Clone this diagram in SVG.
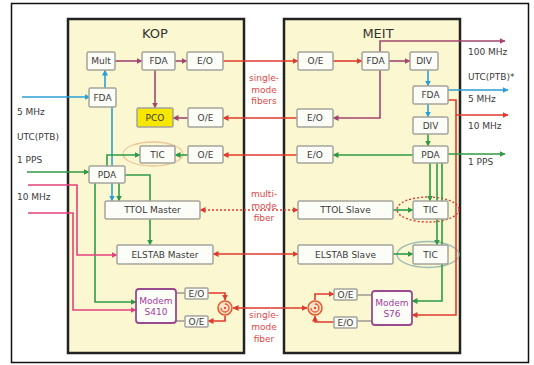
<svg xmlns="http://www.w3.org/2000/svg" width="534" height="365" viewBox="0 0 534 365">
<style>
text{font-family:"DejaVu Sans","Liberation Sans",sans-serif;font-size:9px;fill:#3a3a3a}
.c{text-anchor:middle}
.title{font-size:13px;fill:#333}
.fib{fill:#e04848}
.box{fill:#fdfdf8;stroke:#a4a49c;stroke-width:1.5}
.pco{fill:#f6e600;stroke:#a4a49c;stroke-width:1.5}
.modem{fill:#fdfdf8;stroke:#9a4a8e;stroke-width:1.8}
.mt{fill:#a03c9c}
.panel{fill:#fbf7d0;stroke:#222;stroke-width:2.5}
.ln{fill:none;stroke-width:1.6}
.red{stroke:#e03a2e}
.mau{stroke:#a3466e}
.blu{stroke:#2a9fd6}
.grn{stroke:#2f9a45}
.pnk{stroke:#e4417c}
.gry{stroke:#8a8a84;stroke-width:1.3}
.circ{fill:#fde3cc;stroke:#e8562a;stroke-width:1.5}
</style>
<defs>
<marker id="aR" viewBox="0 0 6 6" refX="5.5" refY="3" markerWidth="6" markerHeight="6" markerUnits="userSpaceOnUse" orient="auto-start-reverse"><path d="M0,0L6,3L0,6z" fill="#e03a2e"/></marker>
<marker id="aM" viewBox="0 0 6 6" refX="5.5" refY="3" markerWidth="6" markerHeight="6" markerUnits="userSpaceOnUse" orient="auto-start-reverse"><path d="M0,0L6,3L0,6z" fill="#a3466e"/></marker>
<marker id="aB" viewBox="0 0 6 6" refX="5.5" refY="3" markerWidth="6" markerHeight="6" markerUnits="userSpaceOnUse" orient="auto-start-reverse"><path d="M0,0L6,3L0,6z" fill="#2a9fd6"/></marker>
<marker id="aG" viewBox="0 0 6 6" refX="5.5" refY="3" markerWidth="6" markerHeight="6" markerUnits="userSpaceOnUse" orient="auto-start-reverse"><path d="M0,0L6,3L0,6z" fill="#2f9a45"/></marker>
<marker id="aP" viewBox="0 0 6 6" refX="5.5" refY="3" markerWidth="6" markerHeight="6" markerUnits="userSpaceOnUse" orient="auto-start-reverse"><path d="M0,0L6,3L0,6z" fill="#e4417c"/></marker>
</defs>
<rect x="0" y="0" width="534" height="365" fill="#fff"/>
<rect x="11.5" y="3.5" width="517" height="359" fill="none" stroke="#111" stroke-width="1.5"/>
<g id="panels">
<rect class="panel" x="68" y="19" width="176" height="334"/>
<rect class="panel" x="284" y="19" width="176" height="334"/>
<text class="c title" x="155" y="38">KOP</text>
<text class="c title" x="378" y="38">MEIT</text>
</g>
<g id="ellipses">
<ellipse cx="153" cy="154" rx="30" ry="12" fill="none" stroke="#ecc49c" stroke-width="1.3"/>
<ellipse cx="428" cy="209.5" rx="31" ry="12.5" fill="none" stroke="#e03030" stroke-width="1.3" stroke-dasharray="2 2"/>
<ellipse cx="428" cy="254.5" rx="31" ry="13" fill="none" stroke="#9cbcb4" stroke-width="1.3"/>
</g>
<g id="connectors">
<path class="ln mau" d="M115,61H142" marker-end="url(#aM)"/>
<path class="ln mau" d="M175,61H187" marker-end="url(#aM)"/>
<path class="ln mau" d="M155,70V108" marker-end="url(#aM)"/>
<path class="ln mau" d="M188,118H173" marker-end="url(#aM)"/>
<path class="ln mau" d="M389,61H410" marker-end="url(#aM)"/>
<path class="ln mau" d="M380,52V41H505" marker-end="url(#aM)"/>
<path class="ln mau" d="M380,70V118H333" marker-end="url(#aM)"/>
<path class="ln red" d="M223,61H298" marker-end="url(#aR)"/>
<path class="ln red" d="M333,61H362" marker-end="url(#aR)"/>
<path class="ln red" d="M297,118H223" marker-end="url(#aR)"/>
<path class="ln red" d="M297,155H223" marker-end="url(#aR)"/>
<path class="ln red" d="M200,210H298" stroke-dasharray="2 2" marker-start="url(#aR)" marker-end="url(#aR)"/>
<path class="ln red" d="M213,254H298" marker-start="url(#aR)" marker-end="url(#aR)"/>
<path class="ln red" d="M233,308H307" marker-start="url(#aR)" marker-end="url(#aR)"/>
<path class="ln red" d="M208,293H225V300" marker-end="url(#aR)"/>
<path class="ln red" d="M225,316V321H208" marker-end="url(#aR)"/>
<path class="ln red" d="M315,300V294H334" marker-end="url(#aR)"/>
<path class="ln red" d="M334,322H315V316" marker-end="url(#aR)"/>
<path class="ln red" d="M448,100H456V315H412" marker-end="url(#aR)"/>
<path class="ln red" d="M456,115H508" marker-end="url(#aR)"/>
<path class="ln blu" d="M22,97H90" marker-end="url(#aB)"/>
<path class="ln blu" d="M105,88V70" marker-end="url(#aB)"/>
<path class="ln blu" d="M112,107V201" marker-end="url(#aB)"/>
<path class="ln blu" d="M428,70V86" marker-end="url(#aB)"/>
<path class="ln blu" d="M428,104V117" marker-end="url(#aB)"/>
<path class="ln blu" d="M448,90H508" marker-end="url(#aB)"/>
<path class="ln grn" d="M27,172H89" marker-end="url(#aG)"/>
<path class="ln grn" d="M107,166V155H140" marker-end="url(#aG)"/>
<path class="ln grn" d="M119,183V201" marker-end="url(#aG)"/>
<path class="ln grn" d="M125,175H150V245" marker-end="url(#aG)"/>
<path class="ln grn" d="M95,183V302H136" marker-end="url(#aG)"/>
<path class="ln grn" d="M188,155H175" marker-end="url(#aG)"/>
<path class="ln grn" d="M428,134V146" marker-end="url(#aG)"/>
<path class="ln grn" d="M413,155H333" marker-end="url(#aG)"/>
<path class="ln grn" d="M448,154H505" marker-end="url(#aG)"/>
<path class="ln grn" d="M430,163V201" marker-end="url(#aG)"/>
<path class="ln grn" d="M437,163V245" marker-end="url(#aG)"/>
<path class="ln grn" d="M442,163V301H412" marker-end="url(#aG)"/>
<path class="ln grn" d="M393,210H413" marker-end="url(#aG)"/>
<path class="ln grn" d="M393,254H413" marker-end="url(#aG)"/>
<path class="ln pnk" d="M28,185H77V255H117" marker-end="url(#aP)"/>
<path class="ln pnk" d="M28,213H73V310H136" marker-end="url(#aP)"/>
<path class="ln gry" d="M176,293H185"/>
<path class="ln gry" d="M176,321H185"/>
<path class="ln gry" d="M357,295H372"/>
<path class="ln gry" d="M357,321H372"/>
</g>
<g id="kop-mult"><rect class="box" x="87" y="52" width="28" height="18" rx="1.5"/><text class="c" x="101" y="64">Mult</text></g>
<g id="kop-fda1"><rect class="box" x="142" y="52" width="33" height="18" rx="1.5"/><text class="c" x="158.5" y="64">FDA</text></g>
<g id="kop-eo1"><rect class="box" x="187" y="52" width="36" height="18" rx="1.5"/><text class="c" x="205" y="64">E/O</text></g>
<g id="kop-fda2"><rect class="box" x="89" y="88" width="27" height="19" rx="1.5"/><text class="c" x="102.5" y="100.5">FDA</text></g>
<g id="kop-pco"><rect class="pco" x="137" y="108" width="36" height="19" rx="1.5"/><text class="c" x="155" y="120.5">PCO</text></g>
<g id="kop-oe2"><rect class="box" x="188" y="108" width="35" height="19" rx="1.5"/><text class="c" x="205.5" y="120.5">O/E</text></g>
<g id="kop-tic"><rect class="box" x="140" y="146" width="35" height="17" rx="1.5"/><text class="c" x="157.5" y="157.5">TIC</text></g>
<g id="kop-oe3"><rect class="box" x="188" y="146" width="35" height="17" rx="1.5"/><text class="c" x="205.5" y="157.5">O/E</text></g>
<g id="kop-pda"><rect class="box" x="89" y="166" width="36" height="17" rx="1.5"/><text class="c" x="107" y="177.5">PDA</text></g>
<g id="kop-ttol"><rect class="box" x="105" y="201" width="95" height="18" rx="1.5"/><text class="c" x="152.5" y="213">TTOL Master</text></g>
<g id="kop-elstab"><rect class="box" x="117" y="245" width="96" height="19" rx="1.5"/><text class="c" x="165" y="257.5">ELSTAB Master</text></g>
<g id="kop-modem"><rect class="modem" x="136" y="289" width="40" height="34" rx="3"/><text class="c mt" x="156" y="304">Modem</text><text class="c mt" x="156" y="315">S410</text></g>
<g id="kop-eo4"><rect class="box" x="185" y="288" width="23" height="11" rx="1"/><text class="c" x="196.5" y="296.5">E/O</text></g>
<g id="kop-oe4"><rect class="box" x="185" y="316" width="23" height="11" rx="1"/><text class="c" x="196.5" y="324.5">O/E</text></g>
<g id="kop-circ"><circle class="circ" cx="225" cy="308" r="7"/><path d="M225,304a4,4 0 1 1 -4,4" fill="none" stroke="#e8562a" stroke-width="1.3"/><circle cx="225" cy="308" r="1.2" fill="#e8562a"/></g>
<g id="meit-oe1"><rect class="box" x="298" y="52" width="35" height="18" rx="1.5"/><text class="c" x="315.5" y="64">O/E</text></g>
<g id="meit-fda1"><rect class="box" x="362" y="52" width="27" height="18" rx="1.5"/><text class="c" x="375.5" y="64">FDA</text></g>
<g id="meit-div1"><rect class="box" x="410" y="52" width="28" height="18" rx="1.5"/><text class="c" x="424" y="64">DIV</text></g>
<g id="meit-fda2"><rect class="box" x="413" y="86" width="35" height="18" rx="1.5"/><text class="c" x="430.5" y="98">FDA</text></g>
<g id="meit-div2"><rect class="box" x="413" y="117" width="35" height="17" rx="1.5"/><text class="c" x="430.5" y="128.5">DIV</text></g>
<g id="meit-pda"><rect class="box" x="413" y="146" width="35" height="17" rx="1.5"/><text class="c" x="430.5" y="157.5">PDA</text></g>
<g id="meit-eo2"><rect class="box" x="297" y="109" width="36" height="18" rx="1.5"/><text class="c" x="315" y="121">E/O</text></g>
<g id="meit-eo3"><rect class="box" x="297" y="146" width="36" height="17" rx="1.5"/><text class="c" x="315" y="157.5">E/O</text></g>
<g id="meit-ttol"><rect class="box" x="298" y="201" width="95" height="18" rx="1.5"/><text class="c" x="345.5" y="213">TTOL Slave</text></g>
<g id="meit-tic1"><rect class="box" x="413" y="201" width="35" height="18" rx="1.5"/><text class="c" x="430.5" y="213">TIC</text></g>
<g id="meit-elstab"><rect class="box" x="298" y="245" width="95" height="19" rx="1.5"/><text class="c" x="345.5" y="257.5">ELSTAB Slave</text></g>
<g id="meit-tic2"><rect class="box" x="413" y="245" width="35" height="19" rx="1.5"/><text class="c" x="430.5" y="257.5">TIC</text></g>
<g id="meit-oe4"><rect class="box" x="334" y="289" width="23" height="11" rx="1"/><text class="c" x="345.5" y="297.5">O/E</text></g>
<g id="meit-eo4"><rect class="box" x="334" y="317" width="23" height="11" rx="1"/><text class="c" x="345.5" y="325.5">E/O</text></g>
<g id="meit-modem"><rect class="modem" x="372" y="291" width="40" height="34" rx="3"/><text class="c mt" x="392" y="306">Modem</text><text class="c mt" x="392" y="317">S76</text></g>
<g id="meit-circ"><circle class="circ" cx="315" cy="308" r="7"/><path d="M315,304a4,4 0 1 1 -4,4" fill="none" stroke="#e8562a" stroke-width="1.3"/><circle cx="315" cy="308" r="1.2" fill="#e8562a"/></g>
<g id="labels">
<text class="c fib" x="264" y="81">single-</text>
<text class="c fib" x="264" y="93">mode</text>
<text class="c fib" x="264" y="104">fibers</text>
<text class="c fib" x="264" y="197">multi-</text>
<text class="c fib" x="264" y="209">mode</text>
<text class="c fib" x="264" y="221">fiber</text>
<text class="c fib" x="264" y="318">single-</text>
<text class="c fib" x="264" y="330">mode</text>
<text class="c fib" x="264" y="342">fiber</text>
<text x="17" y="115">5 MHz</text>
<text x="17" y="140">UTC(PTB)</text>
<text x="17" y="163">1 PPS</text>
<text x="17" y="200">10 MHz</text>
<text x="468" y="55">100 MHz</text>
<text x="468" y="80">UTC(PTB)*</text>
<text x="468" y="102">5 MHz</text>
<text x="468" y="129">10 MHz</text>
<text x="468" y="165">1 PPS</text>
</g>
</svg>
